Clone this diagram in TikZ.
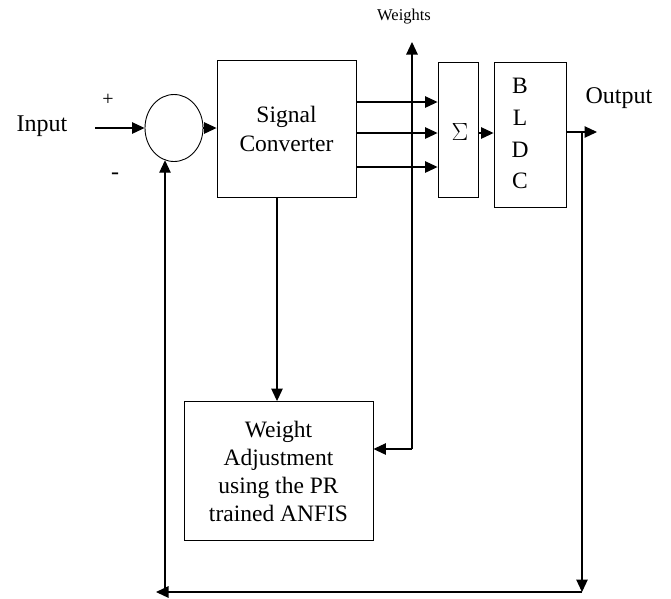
\documentclass[tikz,border=0pt]{standalone}
\usepackage{fontspec}
\setmainfont{Liberation Serif}
\usetikzlibrary{arrows.meta,shapes.geometric}
\begin{document}
\begin{tikzpicture}[x=1pt,y=-1pt,
  line width=1.1pt,
  >={Triangle[length=12.5pt,width=11.5pt]},
  box/.style={draw, line width=0.9pt, inner sep=0pt},
  big/.style={font=\fontsize{23.5}{29}\selectfont},
  lbl/.style={inner sep=0pt, anchor=base west}]
\useasboundingbox (0,0) rectangle (671,598);

% blocks
\node[draw, ellipse, line width=0.9pt, minimum width=58pt, minimum height=67pt, inner sep=0pt] (sum) at (174,128) {};
\node[box, minimum width=139pt, minimum height=137pt, big, align=center] (conv) at (286.5,128.5) {Signal\\Converter};
\node[box, minimum width=40pt, minimum height=135pt] (sig) at (458,129.5) {};
\node[big, inner sep=0pt] (sigma) at (460,132) {$\Sigma$};
\node[box, minimum width=72pt, minimum height=145pt] (bldc) at (530,134.5) {};
\node[box, minimum width=189pt, minimum height=139pt, align=center, font=\fontsize{23.5}{28}\selectfont] (wadj) at (278.5,471) {Weight\\Adjustment\\using the PR\\trained ANFIS};

% BLDC letters
\node[big, lbl, anchor=base] (lB) at (520,93) {B};
\node[big, lbl, anchor=base] (lL) at (520,125) {L};
\node[big, lbl, anchor=base] (lD) at (520,157) {D};
\node[big, lbl, anchor=base] (lC) at (520,188) {C};

% labels
\node[lbl, font=\fontsize{24}{28}\selectfont] (tin) at (16,131) {Input};
\node[lbl, font=\fontsize{24}{28}\selectfont] (tout) at (585,103) {Output};
\node[lbl, anchor=base, font=\fontsize{16.5}{20}\selectfont] (tw) at (404,20) {Weights};
\node[inner sep=0pt, font=\fontsize{20}{20}\selectfont] (plus) at (108,100) {+};
\node[inner sep=0pt, font=\fontsize{24}{20}\selectfont] (minus) at (115,176) {-};

% coordinates
\coordinate (in) at (95,128);
\coordinate (r1) at (0,102);
\coordinate (r2) at (0,133);
\coordinate (r3) at (0,167);
\coordinate (wt) at (412,42);
\coordinate (wb) at (412,449);
\coordinate (out) at (597,132);
\coordinate (fo) at (582,132);
\coordinate (fd) at (582,592);
\coordinate (fl) at (156,592);
\coordinate (fu) at (165,592);
\coordinate (cd) at (277,197);

% connectors
\draw[->] (in) -- (sum.west);
\draw[->] (sum.east) -- (conv.west |- sum.east);
\draw[->] (conv.east |- r1) -- (sig.west |- r1);
\draw[->] (conv.east |- r2) -- (sig.west |- r2);
\draw[->] (conv.east |- r3) -- (sig.west |- r3);
\draw[->] (wb) -- (wt);
\draw[->] (wb) -- (wadj.east |- wb);
\draw[->] (sig.east |- r2) -- (bldc.west |- r2);
\draw[->] (bldc.east |- out) -- (out);
\draw[->] (fo) -- (fd);
\draw[->] (fd) -- (fl);
\draw[->] (fu) -- (fu |- sum.254);
\draw[->] (cd) -- (cd |- wadj.north);
\end{tikzpicture}
\end{document}
